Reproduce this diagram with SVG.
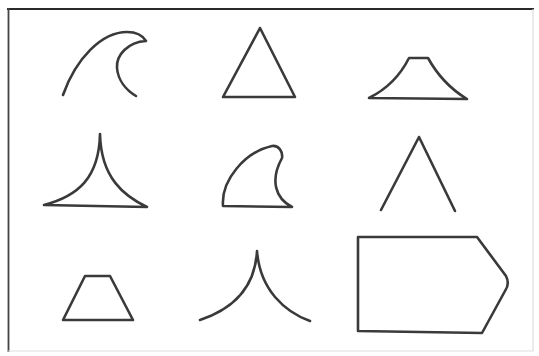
<svg xmlns="http://www.w3.org/2000/svg" width="539" height="356" viewBox="0 0 539 356">
<style>
.s{fill:none;stroke:#3a3a3a;stroke-width:2.6;stroke-linejoin:round;stroke-linecap:round}
</style>
<rect width="539" height="356" fill="#fff"/>
<g id="frame">
<line x1="7" y1="9" x2="534" y2="9" stroke="#2a2a2a" stroke-width="2.2"/>
<line x1="8.5" y1="8" x2="8.5" y2="352" stroke="#444" stroke-width="1.8"/>
<line x1="533" y1="9" x2="533" y2="351" stroke="#ddd" stroke-width="1.2"/>
<line x1="8" y1="351" x2="533" y2="351" stroke="#ddd" stroke-width="1.2"/>
</g>
<g id="wave"><path class="s" d="M63,95 C76,58 102,32 127,32 C138,32 143,36 146,41 C128,42 116,55 117,68 C118,80 126,90 136,96"/></g>
<g id="triangle"><path class="s" d="M260,28 L223,97 L295,97 Z"/></g>
<g id="mount"><path class="s" d="M369,98 C385,90 400,76 409,58 L428,58 C438,76 452,90 467,99 Z"/></g>
<g id="cusp"><path class="s" d="M44,205 C78,196 99,178 100,134 C101,178 124,196 147,207 Z"/></g>
<g id="fin"><path class="s" d="M223,206 C221,180 245,152 272,146 C279,145 283,152 282,158 C270,180 275,198 292,207 Z"/></g>
<g id="vee"><path class="s" d="M381,210 L419,137 L455,211"/></g>
<g id="trap"><path class="s" d="M85,276 L110,276 L133,320 L63,320 Z"/></g>
<g id="arch"><path class="s" d="M200,320 C230,310 255,290 257,251 C260,290 285,312 310,321"/></g>
<g id="pent"><path class="s" d="M358,237 L477,237 L506,276 Q510,284 505,291 L482,333 L358,331 Z"/></g>
</svg>
